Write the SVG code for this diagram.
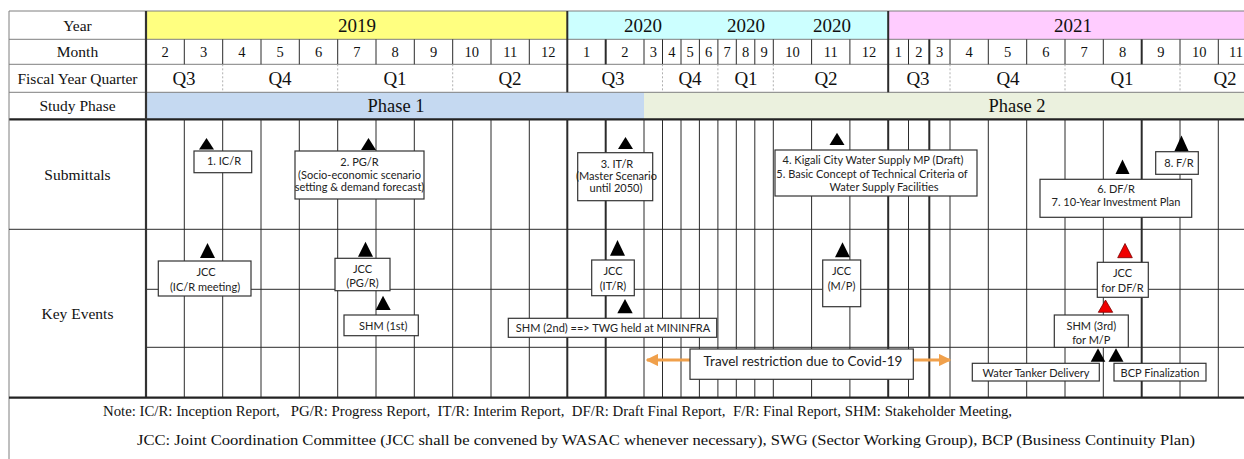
<svg xmlns="http://www.w3.org/2000/svg" width="1244" height="459" viewBox="0 0 1244 459">
  <style>
    .hdr { font-family: "Liberation Serif", "Times New Roman", serif; fill: #111; text-anchor: middle; dominant-baseline: central; }
    .lbl { font-size: 15.5px; }
    .yr { font-size: 19px; }
    .mo { font-size: 14.5px; }
    .q { font-size: 19px; }
    .ph { font-size: 18.5px; }
    .note { font-family: "Liberation Serif", "Times New Roman", serif; font-size: 14px; fill: #111; dominant-baseline: central; }
    .box { fill: #fff; stroke: #333; stroke-width: 1.2; }
    .bt { font-family: Lato, "Liberation Sans", sans-serif; font-size: 11px; fill: #222; text-anchor: middle; dominant-baseline: central; }
    .big { font-size: 13.5px; }
    .tri { fill: #000; }
    .tri-red { fill: #f00000; stroke: #7a0000; stroke-width: 0.8; }
    .grid { stroke: #2b2b2b; stroke-width: 1; }
    .thick { stroke: #2b2b2b; stroke-width: 2; }
    .hline { stroke: #7f7f7f; stroke-width: 1; }
    .qsep { stroke: #b0b0b0; stroke-width: 1; stroke-dasharray: 2 2; }
    .arrow { stroke: #f0a04b; stroke-width: 3; fill: none; }
  </style>
  <defs>
    <marker id="orangeHead" viewBox="0 0 10 10" refX="9" refY="5" markerWidth="4.2" markerHeight="4.2" orient="auto-start-reverse" markerUnits="strokeWidth">
      <path d="M0,0 L10,5 L0,10 z" fill="#f0a04b"/>
    </marker>
  </defs>

  <rect width="1244" height="459" fill="#fff"/>

  <!-- header fills -->
  <g id="header-fills">
    <rect x="146" y="11" width="421.3" height="28.3" fill="#ffff80"/>
    <rect x="567.3" y="11" width="320.9" height="28.3" fill="#ccffff"/>
    <rect x="888.2" y="11" width="356" height="28.3" fill="#ffccff"/>
    <rect x="146" y="92.3" width="498" height="27" fill="#c5d9f1"/>
    <rect x="644" y="92.3" width="600" height="27" fill="#ebf1de"/>
  </g>

  <!-- header ruling -->
  <g id="header-lines">
    <line class="hline" x1="9" y1="11" x2="1244" y2="11"/>
    <line class="hline" x1="9" y1="39.3" x2="1244" y2="39.3"/>
    <line class="hline" x1="9" y1="64.3" x2="1244" y2="64.3"/>
    <line class="hline" x1="9" y1="92.3" x2="1244" y2="92.3"/>
    <line x1="9" y1="119.3" x2="1244" y2="119.3" stroke="#222" stroke-width="2.2"/>
    <line class="hline" x1="9" y1="11" x2="9" y2="459"/>
    <!-- year boundaries -->
    <line class="thick" x1="567.3" y1="11" x2="567.3" y2="92.3"/>
    <line class="thick" x1="888.2" y1="11" x2="888.2" y2="92.3"/>
    <!-- month row dividers -->
    <g class="grid" stroke="#555">
      <line x1="184.3" y1="39.3" x2="184.3" y2="64.3"/>
      <line x1="222.7" y1="39.3" x2="222.7" y2="64.3"/>
      <line x1="261" y1="39.3" x2="261" y2="64.3"/>
      <line x1="299.3" y1="39.3" x2="299.3" y2="64.3"/>
      <line x1="337.7" y1="39.3" x2="337.7" y2="64.3"/>
      <line x1="376" y1="39.3" x2="376" y2="64.3"/>
      <line x1="414.3" y1="39.3" x2="414.3" y2="64.3"/>
      <line x1="452.7" y1="39.3" x2="452.7" y2="64.3"/>
      <line x1="491" y1="39.3" x2="491" y2="64.3"/>
      <line x1="529.3" y1="39.3" x2="529.3" y2="64.3"/>
      <line x1="644" y1="39.3" x2="644" y2="64.3"/>
      <line x1="662.5" y1="39.3" x2="662.5" y2="64.3"/>
      <line x1="681" y1="39.3" x2="681" y2="64.3"/>
      <line x1="699.4" y1="39.3" x2="699.4" y2="64.3"/>
      <line x1="717.9" y1="39.3" x2="717.9" y2="64.3"/>
      <line x1="736.3" y1="39.3" x2="736.3" y2="64.3"/>
      <line x1="754.8" y1="39.3" x2="754.8" y2="64.3"/>
      <line x1="773.3" y1="39.3" x2="773.3" y2="64.3"/>
      <line x1="811.6" y1="39.3" x2="811.6" y2="64.3"/>
      <line x1="849.9" y1="39.3" x2="849.9" y2="64.3"/>
      <line x1="908.5" y1="39.3" x2="908.5" y2="64.3"/>
      <line x1="950" y1="39.3" x2="950" y2="64.3"/>
      <line x1="988.3" y1="39.3" x2="988.3" y2="64.3"/>
      <line x1="1026.7" y1="39.3" x2="1026.7" y2="64.3"/>
      <line x1="1065" y1="39.3" x2="1065" y2="64.3"/>
      <line x1="1103.3" y1="39.3" x2="1103.3" y2="64.3"/>
      <line x1="1180" y1="39.3" x2="1180" y2="64.3"/>
      <line x1="1218.3" y1="39.3" x2="1218.3" y2="64.3"/>
    </g>
    <line class="thick" x1="605.7" y1="39.3" x2="605.7" y2="64.3"/>
    <line class="thick" x1="929.3" y1="39.3" x2="929.3" y2="64.3"/>
    <line class="thick" x1="1141.7" y1="39.3" x2="1141.7" y2="64.3"/>
    <!-- quarter dividers -->
    <g class="qsep">
      <line x1="222.7" y1="64.3" x2="222.7" y2="92.3"/>
      <line x1="337.7" y1="64.3" x2="337.7" y2="92.3"/>
      <line x1="452.7" y1="64.3" x2="452.7" y2="92.3"/>
      <line x1="662.5" y1="64.3" x2="662.5" y2="92.3"/>
      <line x1="717.9" y1="64.3" x2="717.9" y2="92.3"/>
      <line x1="773.3" y1="64.3" x2="773.3" y2="92.3"/>
      <line x1="950" y1="64.3" x2="950" y2="92.3"/>
      <line x1="1065" y1="64.3" x2="1065" y2="92.3"/>
      <line x1="1180" y1="64.3" x2="1180" y2="92.3"/>
    </g>
  </g>

  <!-- body grid -->
  <g id="body-grid">
    <g class="grid">
      <line x1="184.3" y1="119.3" x2="184.3" y2="397.7"/>
      <line x1="222.7" y1="119.3" x2="222.7" y2="397.7"/>
      <line x1="261" y1="119.3" x2="261" y2="397.7"/>
      <line x1="299.3" y1="119.3" x2="299.3" y2="397.7"/>
      <line x1="337.7" y1="119.3" x2="337.7" y2="397.7"/>
      <line x1="376" y1="119.3" x2="376" y2="397.7"/>
      <line x1="414.3" y1="119.3" x2="414.3" y2="397.7"/>
      <line x1="452.7" y1="119.3" x2="452.7" y2="397.7"/>
      <line x1="491" y1="119.3" x2="491" y2="397.7"/>
      <line x1="529.3" y1="119.3" x2="529.3" y2="397.7"/>
      <line x1="644" y1="119.3" x2="644" y2="397.7"/>
      <line x1="662.5" y1="119.3" x2="662.5" y2="397.7"/>
      <line x1="681" y1="119.3" x2="681" y2="397.7"/>
      <line x1="699.4" y1="119.3" x2="699.4" y2="397.7"/>
      <line x1="717.9" y1="119.3" x2="717.9" y2="397.7"/>
      <line x1="736.3" y1="119.3" x2="736.3" y2="397.7"/>
      <line x1="754.8" y1="119.3" x2="754.8" y2="397.7"/>
      <line x1="773.3" y1="119.3" x2="773.3" y2="397.7"/>
      <line x1="811.6" y1="119.3" x2="811.6" y2="397.7"/>
      <line x1="849.9" y1="119.3" x2="849.9" y2="397.7"/>
      <line x1="908.5" y1="119.3" x2="908.5" y2="397.7"/>
      <line x1="950" y1="119.3" x2="950" y2="397.7"/>
      <line x1="988.3" y1="119.3" x2="988.3" y2="397.7"/>
      <line x1="1026.7" y1="119.3" x2="1026.7" y2="397.7"/>
      <line x1="1065" y1="119.3" x2="1065" y2="397.7"/>
      <line x1="1103.3" y1="119.3" x2="1103.3" y2="397.7"/>
      <line x1="1180" y1="119.3" x2="1180" y2="397.7"/>
      <line x1="1218.3" y1="119.3" x2="1218.3" y2="397.7"/>
      <line x1="9" y1="229.3" x2="1244" y2="229.3"/>
      <line x1="146" y1="289.3" x2="1244" y2="289.3"/>
      <line x1="146" y1="347.3" x2="1244" y2="347.3"/>
    </g>
    <g class="thick">
      <line x1="567.3" y1="119.3" x2="567.3" y2="397.7"/>
      <line x1="605.7" y1="119.3" x2="605.7" y2="397.7"/>
      <line x1="888.2" y1="119.3" x2="888.2" y2="397.7"/>
      <line x1="929.3" y1="119.3" x2="929.3" y2="397.7"/>
      <line x1="1141.7" y1="119.3" x2="1141.7" y2="397.7"/>
    </g>
    <line x1="146" y1="11" x2="146" y2="397.7" stroke="#333" stroke-width="2.2"/>
    <line x1="9" y1="397.7" x2="1244" y2="397.7" stroke="#222" stroke-width="2.2"/>
  </g>

  <!-- header texts -->
  <g id="header-text" class="hdr">
    <text class="lbl" x="77.5" y="25.2">Year</text>
    <text class="lbl" x="77.5" y="51.8">Month</text>
    <text class="lbl" x="77.5" y="78.3">Fiscal Year Quarter</text>
    <text class="lbl" x="77.5" y="105.8">Study Phase</text>
    <text class="lbl" x="77.5" y="174.5">Submittals</text>
    <text class="lbl" x="77.5" y="313.5">Key Events</text>

    <text class="yr" x="357" y="25.2">2019</text>
    <text class="yr" x="643" y="25.2">2020</text>
    <text class="yr" x="746" y="25.2">2020</text>
    <text class="yr" x="832" y="25.2">2020</text>
    <text class="yr" x="1073" y="25.2">2021</text>

    <g class="mo">
      <text x="165.2" y="51.8">2</text>
      <text x="203.5" y="51.8">3</text>
      <text x="241.8" y="51.8">4</text>
      <text x="280.2" y="51.8">5</text>
      <text x="318.5" y="51.8">6</text>
      <text x="356.8" y="51.8">7</text>
      <text x="395.2" y="51.8">8</text>
      <text x="433.5" y="51.8">9</text>
      <text x="471.8" y="51.8">10</text>
      <text x="510.2" y="51.8">11</text>
      <text x="548.3" y="51.8">12</text>
      <text x="586.5" y="51.8">1</text>
      <text x="624.8" y="51.8">2</text>
      <text x="653.3" y="51.8">3</text>
      <text x="671.8" y="51.8">4</text>
      <text x="690.2" y="51.8">5</text>
      <text x="708.6" y="51.8">6</text>
      <text x="727.1" y="51.8">7</text>
      <text x="745.5" y="51.8">8</text>
      <text x="764" y="51.8">9</text>
      <text x="792.5" y="51.8">10</text>
      <text x="830.8" y="51.8">11</text>
      <text x="869" y="51.8">12</text>
      <text x="898.3" y="51.8">1</text>
      <text x="918.9" y="51.8">2</text>
      <text x="939.6" y="51.8">3</text>
      <text x="969.2" y="51.8">4</text>
      <text x="1007.5" y="51.8">5</text>
      <text x="1045.8" y="51.8">6</text>
      <text x="1084.2" y="51.8">7</text>
      <text x="1122.5" y="51.8">8</text>
      <text x="1160.8" y="51.8">9</text>
      <text x="1199.2" y="51.8">10</text>
      <text x="1236" y="51.8">11</text>
    </g>

    <g class="q">
      <text x="184" y="78.3">Q3</text>
      <text x="280" y="78.3">Q4</text>
      <text x="395" y="78.3">Q1</text>
      <text x="510" y="78.3">Q2</text>
      <text x="613" y="78.3">Q3</text>
      <text x="690" y="78.3">Q4</text>
      <text x="746" y="78.3">Q1</text>
      <text x="826" y="78.3">Q2</text>
      <text x="918" y="78.3">Q3</text>
      <text x="1008" y="78.3">Q4</text>
      <text x="1122" y="78.3">Q1</text>
      <text x="1225" y="78.3">Q2</text>
    </g>

    <text class="ph" x="396" y="105.8">Phase 1</text>
    <text class="ph" x="1017" y="105.8">Phase 2</text>
  </g>

  <!-- connectors: travel restriction span arrows -->
  <g id="connectors">
    <line class="arrow" x1="690" y1="360" x2="647" y2="360" marker-end="url(#orangeHead)"/>
    <line class="arrow" x1="913" y1="360" x2="950" y2="360" marker-end="url(#orangeHead)"/>
  </g>

  <!-- submittals -->
  <g id="sub-icr">
    <polygon class="tri" points="206.5,138 199,149.5 214,149.5"/>
    <rect class="box" x="194" y="151" width="57.7" height="21.7"/>
    <text class="bt" x="224" y="160.5">1. IC/R</text>
  </g>
  <g id="sub-pgr">
    <polygon class="tri" points="368.5,138 361,150 376,150"/>
    <rect class="box" x="295" y="151" width="129" height="48"/>
    <text class="bt" x="359.5" y="161.5">2. PG/R</text>
    <text class="bt" x="359.5" y="174">(Socio-economic scenario</text>
    <text class="bt" x="359.5" y="186">setting &amp; demand forecast)</text>
  </g>
  <g id="sub-itr">
    <polygon class="tri" points="625.5,137 618,149 633,149"/>
    <rect class="box" x="577.7" y="152.7" width="75" height="48"/>
    <text class="bt" x="617" y="163">3. IT/R</text>
    <text class="bt" x="616.5" y="175">(Master Scenario</text>
    <text class="bt" x="616" y="187">until 2050)</text>
  </g>
  <g id="sub-mp">
    <polygon class="tri" points="837,132.7 829.5,145 844.5,145"/>
    <rect class="box" x="775" y="150" width="202" height="46"/>
    <text class="bt" x="873" y="159.5">4. Kigali City Water Supply  MP (Draft)</text>
    <text class="bt" x="872" y="173">5. Basic Concept of Technical Criteria of</text>
    <text class="bt" x="884" y="186.5">Water Supply  Facilities</text>
  </g>
  <g id="sub-dfr">
    <polygon class="tri" points="1122.5,159.5 1115.5,174 1129.5,174"/>
    <rect class="box" x="1040" y="179.3" width="151.7" height="38"/>
    <text class="bt" x="1116" y="188.5">6. DF/R</text>
    <text class="bt" x="1116" y="201.5">7. 10-Year Investment Plan</text>
  </g>
  <g id="sub-fr">
    <polygon class="tri" points="1181.5,135.5 1174.5,151 1188.5,151"/>
    <rect class="box" x="1155.7" y="151.7" width="42.6" height="22.6"/>
    <text class="bt" x="1179" y="162.7">8. F/R</text>
  </g>

  <!-- key events -->
  <g id="ev-jcc-icr">
    <polygon class="tri" points="207.5,243 200,258 215,258"/>
    <rect class="box" x="158.3" y="261" width="92.7" height="35"/>
    <text class="bt" x="206" y="271">JCC</text>
    <text class="bt" x="205" y="286.5">(IC/R meeting)</text>
  </g>
  <g id="ev-jcc-pgr">
    <polygon class="tri" points="365.5,241.7 358,256.7 373,256.7"/>
    <rect class="box" x="335" y="258.3" width="55" height="32.4"/>
    <text class="bt" x="362.5" y="268">JCC</text>
    <text class="bt" x="362.5" y="282.3">(PG/R)</text>
  </g>
  <g id="ev-shm1">
    <polygon class="tri" points="383,295.7 375.7,310 390.7,310"/>
    <rect class="box" x="344" y="315" width="74.3" height="20.7"/>
    <text class="bt" x="383.3" y="325.3">SHM (1st)</text>
  </g>
  <g id="ev-jcc-itr">
    <polygon class="tri" points="617.5,240 610,255.7 625,255.7"/>
    <rect class="box" x="591.7" y="260" width="42.6" height="35.7"/>
    <text class="bt" x="613" y="270">JCC</text>
    <text class="bt" x="613" y="285">(IT/R)</text>
  </g>
  <g id="ev-shm2">
    <polygon class="tri" points="625,299 617.3,313.3 632.7,313.3"/>
    <rect class="box" x="508.3" y="318.3" width="208.4" height="19"/>
    <text class="bt" x="613" y="327.8">SHM (2nd) ==&gt; TWG held at MININFRA</text>
  </g>
  <g id="ev-travel">
    <rect class="box" x="690" y="349" width="223.3" height="30.3"/>
    <text class="bt big" x="803" y="360.5">Travel restriction due to Covid-19</text>
  </g>
  <g id="ev-jcc-mp">
    <polygon class="tri" points="842.5,242.3 835,257.3 850,257.3"/>
    <rect class="box" x="822.7" y="260" width="38" height="46.7"/>
    <text class="bt" x="841.5" y="270.7">JCC</text>
    <text class="bt" x="841.5" y="285">(M/P)</text>
  </g>
  <g id="ev-jcc-dfr">
    <polygon class="tri-red" points="1125,243.5 1117.7,257.7 1132.3,257.7"/>
    <rect class="box" x="1097.3" y="262.3" width="51" height="35"/>
    <text class="bt" x="1122.5" y="272.7">JCC</text>
    <text class="bt" x="1122.5" y="287.3">for DF/R</text>
  </g>
  <g id="ev-shm3">
    <polygon class="tri-red" points="1105.5,300 1098.3,312.3 1112.7,312.3"/>
    <rect class="box" x="1054.3" y="315" width="74" height="32.3"/>
    <text class="bt" x="1091.3" y="325">SHM (3rd)</text>
    <text class="bt" x="1091.3" y="339">for M/P</text>
  </g>
  <g id="ev-tanker">
    <polygon class="tri" points="1098,348.3 1090.7,361.7 1105.3,361.7"/>
    <rect class="box" x="972.3" y="363.3" width="127" height="17.7"/>
    <text class="bt" x="1036" y="372.5">Water Tanker Delivery</text>
  </g>
  <g id="ev-bcp">
    <polygon class="tri" points="1116,348.3 1108.5,361.7 1123.5,361.7"/>
    <rect class="box" x="1114" y="363.3" width="92" height="17.7"/>
    <text class="bt" x="1160" y="372.5">BCP Finalization</text>
  </g>

  <!-- notes -->
  <g id="notes">
    <text class="note" x="103" y="411" textLength="909" lengthAdjust="spacingAndGlyphs" xml:space="preserve">Note: IC/R: Inception Report,   PG/R: Progress Report,  IT/R: Interim Report,  DF/R: Draft Final Report,  F/R: Final Report, SHM: Stakeholder Meeting,</text>
    <text class="note" x="137" y="440" textLength="1058" lengthAdjust="spacingAndGlyphs">JCC: Joint Coordination Committee (JCC shall be convened by WASAC whenever necessary), SWG (Sector Working Group), BCP (Business Continuity Plan)</text>
  </g>
</svg>
